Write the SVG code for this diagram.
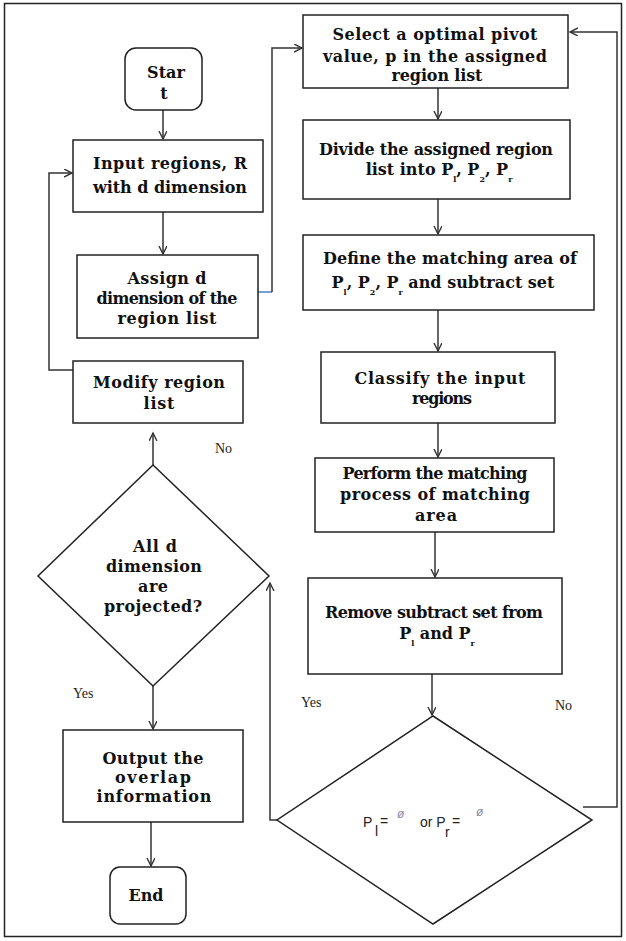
<svg xmlns="http://www.w3.org/2000/svg" width="626" height="941" viewBox="0 0 626 941">
<style>
.box{fill:#fff;stroke:#222;stroke-width:1.5}
.con{fill:none;stroke:#333;stroke-width:1.5}
.t{font-family:"DejaVu Serif","Liberation Serif",serif;font-weight:bold;font-size:16px;fill:#111;text-anchor:middle}
.lbl{font-family:"Liberation Serif",serif;font-size:14px;fill:#222}
.sub{font-size:8px}
.s{font-family:"Liberation Sans",Arial,sans-serif;font-size:14px;fill:#222}
.phi{font-family:"Liberation Sans",Arial,sans-serif;font-size:12px;fill:#8888a8;font-style:italic}
</style>
<defs>
<marker id="arr" markerWidth="10" markerHeight="10" refX="8" refY="4" orient="auto" markerUnits="userSpaceOnUse">
<path d="M0,0 L8,4 L0,8" fill="none" stroke="#333" stroke-width="1.4"/>
</marker>
</defs>
<rect x="4.5" y="3.5" width="617" height="933" fill="#fff" stroke="#222" stroke-width="1.5"/>

<g id="connectors">
<path class="con" d="M163,110 V139" marker-end="url(#arr)"/>
<path class="con" d="M163,212 V254" marker-end="url(#arr)"/>
<path d="M258,292 H272" fill="none" stroke="#4a7ebb" stroke-width="1.5"/>
<path class="con" d="M272,292 V48 H302" marker-end="url(#arr)"/>
<path class="con" d="M73,370 H49 V173 H72" marker-end="url(#arr)"/>
<path class="con" d="M153,465 V433" marker-end="url(#arr)"/>
<path class="con" d="M153,685 V729" marker-end="url(#arr)"/>
<path class="con" d="M151,822 V866" marker-end="url(#arr)"/>
<path class="con" d="M438,88 V119" marker-end="url(#arr)"/>
<path class="con" d="M438,199 V234" marker-end="url(#arr)"/>
<path class="con" d="M438,310 V351" marker-end="url(#arr)"/>
<path class="con" d="M438,423 V457" marker-end="url(#arr)"/>
<path class="con" d="M435,532 V577" marker-end="url(#arr)"/>
<path class="con" d="M432,674 V715" marker-end="url(#arr)"/>
<path class="con" d="M277,820 H270 V583" marker-end="url(#arr)"/>
<path class="con" d="M583,807 H617 V32 H570" marker-end="url(#arr)"/>
<text class="lbl" x="215" y="453">No</text>
<text class="lbl" x="73" y="698">Yes</text>
<text class="lbl" x="301" y="707">Yes</text>
<text class="lbl" x="555" y="710">No</text>
</g>

<g id="start">
<rect class="box" x="125" y="48" width="77" height="62" rx="11"/>
<text class="t" x="166" y="78" textLength="38" lengthAdjust="spacing">Star</text>
<text class="t" x="164" y="99">t</text>
</g>

<g id="input">
<rect class="box" x="73" y="140" width="190" height="72"/>
<text class="t" x="170" y="169" textLength="154" lengthAdjust="spacing">Input regions, R</text>
<text class="t" x="170" y="193" textLength="154" lengthAdjust="spacing">with d dimension</text>
</g>

<g id="assign">
<rect class="box" x="77" y="255" width="181" height="83"/>
<text class="t" x="167" y="284" textLength="79" lengthAdjust="spacing">Assign d</text>
<text class="t" x="167" y="304" textLength="141" lengthAdjust="spacing">dimension of the</text>
<text class="t" x="167" y="324" textLength="99" lengthAdjust="spacing">region list</text>
</g>

<g id="modify">
<rect class="box" x="73" y="361" width="170" height="62"/>
<text class="t" x="159" y="388" textLength="132" lengthAdjust="spacing">Modify region</text>
<text class="t" x="159" y="409" textLength="31" lengthAdjust="spacing">list</text>
</g>

<g id="decision1">
<polygon class="box" points="153,465 269,576 153,686 38,576"/>
<text class="t" x="155" y="552" textLength="44" lengthAdjust="spacing">All d</text>
<text class="t" x="154" y="572" textLength="96" lengthAdjust="spacing">dimension</text>
<text class="t" x="153" y="592" textLength="30" lengthAdjust="spacing">are</text>
<text class="t" x="153" y="612" textLength="98" lengthAdjust="spacing">projected?</text>
</g>

<g id="output">
<rect class="box" x="63" y="730" width="180" height="92"/>
<text class="t" x="153" y="764" textLength="101" lengthAdjust="spacing">Output the</text>
<text class="t" x="153" y="783" textLength="76" lengthAdjust="spacing">overlap</text>
<text class="t" x="154" y="802" textLength="115" lengthAdjust="spacing">information</text>
</g>

<g id="end">
<rect class="box" x="110" y="867" width="76" height="57" rx="10"/>
<text class="t" x="146" y="901" textLength="35" lengthAdjust="spacing">End</text>
</g>

<g id="select">
<rect class="box" x="303" y="15" width="265" height="73"/>
<text class="t" x="435" y="40" textLength="205" lengthAdjust="spacing">Select a optimal pivot</text>
<text class="t" x="435" y="62" textLength="224" lengthAdjust="spacing">value, p in the assigned</text>
<text class="t" x="437" y="81" textLength="91" lengthAdjust="spacing">region list</text>
</g>

<g id="divide">
<rect class="box" x="303" y="120" width="267" height="79"/>
<text class="t" x="436" y="155" textLength="234" lengthAdjust="spacing">Divide the assigned region</text>
<text class="t" x="439" y="175">list into P<tspan class="sub" dy="7">l</tspan><tspan dy="-7">, P</tspan><tspan class="sub" dy="7">2</tspan><tspan dy="-7">, P</tspan><tspan class="sub" dy="7">r</tspan></text>
</g>

<g id="define">
<rect class="box" x="303" y="235" width="291" height="75"/>
<text class="t" x="450" y="264" textLength="254" lengthAdjust="spacing">Define the matching area of</text>
<text class="t" x="443" y="288">P<tspan class="sub" dy="7">l</tspan><tspan dy="-7">, P</tspan><tspan class="sub" dy="7">2</tspan><tspan dy="-7">, P</tspan><tspan class="sub" dy="7">r</tspan><tspan dy="-7"> and subtract set</tspan></text>
</g>

<g id="classify">
<rect class="box" x="321" y="352" width="234" height="71"/>
<text class="t" x="440" y="384" textLength="171" lengthAdjust="spacing">Classify the input</text>
<text class="t" x="442" y="404" textLength="60" lengthAdjust="spacing">regions</text>
</g>

<g id="perform">
<rect class="box" x="315" y="458" width="239" height="74"/>
<text class="t" x="435" y="479" textLength="185" lengthAdjust="spacing">Perform the matching</text>
<text class="t" x="435" y="500" textLength="190" lengthAdjust="spacing">process of matching</text>
<text class="t" x="436" y="521" textLength="42" lengthAdjust="spacing">area</text>
</g>

<g id="remove">
<rect class="box" x="308" y="578" width="254" height="96"/>
<text class="t" x="434" y="618" textLength="218" lengthAdjust="spacing">Remove subtract set from</text>
<text class="t" x="437" y="639">P<tspan class="sub" dy="7">l</tspan><tspan dy="-7"> and P</tspan><tspan class="sub" dy="7">r</tspan></text>
</g>

<g id="decision2">
<polygon class="box" points="433,716 592,820 433,924 277,820"/>
<text class="s" x="363" y="827">P</text>
<text class="s" x="375" y="836" font-size="9">l</text>
<text class="s" x="380" y="826">=</text>
<text class="phi" x="397" y="818">ø</text>
<text class="s" x="420" y="827">or P</text>
<text class="s" x="445" y="837" font-size="9">r</text>
<text class="s" x="452" y="826">=</text>
<text class="phi" x="476" y="816">ø</text>
</g>
</svg>
